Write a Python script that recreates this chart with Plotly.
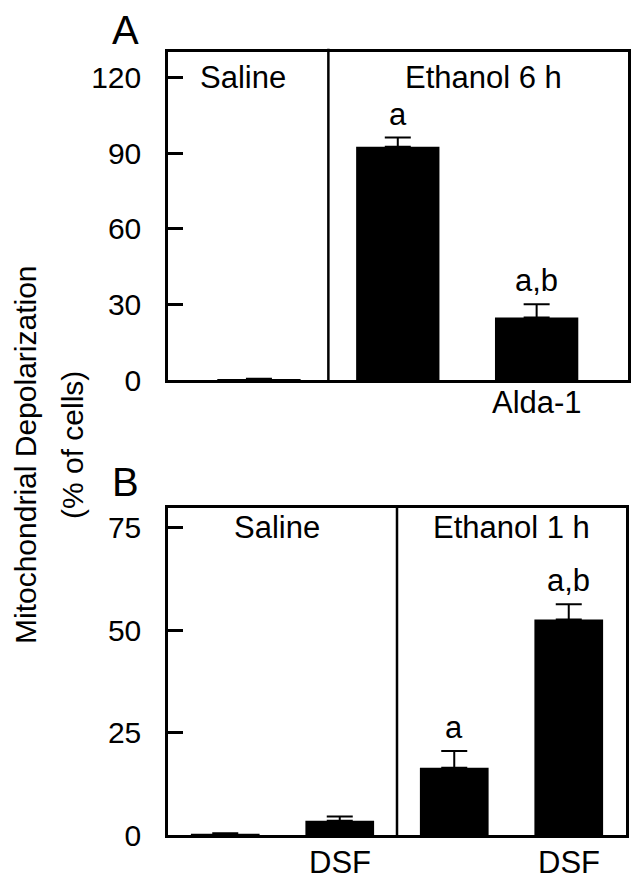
import plotly.graph_objects as go

# panel A: saline / ethanol 6 h
a_x = [1, 2, 3]
a_values = [0.2, 92.7, 24.8]
a_errors = [0.3, 3.6, 5.3]
a_marks = ["", "a", "a,b"]
a_ticks = [0, 30, 60, 90, 120]

# panel B: saline / ethanol 1 h
b_x = [1, 2, 3, 4]
b_values = [0.2, 3.5, 16.4, 52.6]
b_errors = [0.2, 1.0, 4.1, 3.7]
b_marks = ["", "", "a", "a,b"]
b_ticks = [0, 25, 50, 75]

FONT = "Liberation Sans, Arial, sans-serif"
W, H = 639, 882
OFF = 8  # page body margin shifts the figure by this much


def px_x(p):
    return (p - OFF) / W


def px_y(p):
    return 1 - (p - OFF) / H


fig = go.Figure()
fig.add_trace(go.Bar(x=a_x, y=a_values, width=0.6, marker=dict(color="black", line_width=0),
                     error_y=dict(type="data", array=a_errors, arrayminus=[0] * len(a_x), symmetric=False,
                                  color="black", thickness=2, width=13),
                     xaxis="x", yaxis="y", showlegend=False))
fig.add_trace(go.Bar(x=b_x, y=b_values, width=0.6, marker=dict(color="black", line_width=0),
                     error_y=dict(type="data", array=b_errors, arrayminus=[0] * len(b_x), symmetric=False,
                                  color="black", thickness=2, width=13),
                     xaxis="x2", yaxis="y2", showlegend=False))

a_range = [0.345, 3.658]
b_range = [0.5, 4.5]
axis_common = dict(showline=True, linewidth=2.5, linecolor="black", mirror=True, showgrid=False,
                   zeroline=False, automargin=False)
fig.update_layout(
    width=W, height=H,
    margin=dict(l=0, r=0, t=0, b=0, pad=0),
    plot_bgcolor="white", paper_bgcolor="white",
    font=dict(family=FONT, size=31, color="black"),
    xaxis=dict(domain=[px_x(168), px_x(628)], range=a_range, showticklabels=False, ticks="",
               anchor="y", **axis_common),
    yaxis=dict(domain=[px_y(380), px_y(52)], range=[0, 130.3], tickvals=a_ticks, ticks="inside",
               ticklen=15, tickwidth=2.5, tickcolor="black", ticklabelstandoff=18,
               tickfont=dict(size=30), anchor="x", **axis_common),
    xaxis2=dict(domain=[px_x(168), px_x(626)], range=b_range, showticklabels=False, ticks="",
                anchor="y2", **axis_common),
    yaxis2=dict(domain=[px_y(835), px_y(507.7)], range=[0, 79.9], tickvals=b_ticks, ticks="inside",
                ticklen=15, tickwidth=2.5, tickcolor="black", ticklabelstandoff=18,
                tickfont=dict(size=30), anchor="x2", **axis_common),
)

# group dividers
fig.add_shape(type="line", xref="x", yref="y domain", x0=1.5, x1=1.5, y0=0, y1=1.01,
              line=dict(color="black", width=2.5))
fig.add_shape(type="line", xref="x2", yref="y2 domain", x0=2.5, x1=2.5, y0=0, y1=1,
              line=dict(color="black", width=2.5))

ann = []
# group headings
ann.append(dict(text="Saline", x=(a_range[0] + 1.5) / 2 - 0.04, y=a_ticks[-1], xref="x", yref="y"))
ann.append(dict(text="Ethanol 6 h", x=(1.5 + a_range[1]) / 2 + 0.04, y=a_ticks[-1], xref="x", yref="y"))
ann.append(dict(text="Saline", x=(b_range[0] + 2.5) / 2 - 0.05, y=b_ticks[-1], xref="x2", yref="y2"))
ann.append(dict(text="Ethanol 1 h", x=(2.5 + b_range[1]) / 2, y=b_ticks[-1], xref="x2", yref="y2"))

# significance marks
for x, v, e, m in zip(a_x, a_values, a_errors, a_marks):
    if m:
        ann.append(dict(text=m, x=x, y=v + e, xref="x", yref="y", yanchor="bottom", yshift=4))
for x, v, e, m in zip(b_x, b_values, b_errors, b_marks):
    if m:
        ann.append(dict(text=m, x=x, y=v + e, xref="x2", yref="y2", yanchor="bottom", yshift=4))

# treatment labels under bars
ann.append(dict(text="Alda-1", x=3, y=px_y(402), xref="x", yref="paper"))
ann.append(dict(text="DSF", x=2, y=px_y(862), xref="x2", yref="paper"))
ann.append(dict(text="DSF", x=4, y=px_y(862), xref="x2", yref="paper"))

# panel letters
ann.append(dict(text="A", x=px_x(125), y=px_y(30), xref="paper", yref="paper", font=dict(size=40)))
ann.append(dict(text="B", x=px_x(125), y=px_y(482), xref="paper", yref="paper", font=dict(size=40)))

# shared y title
ann.append(dict(text="Mitochondrial Depolarization", x=px_x(25), y=px_y(455), xref="paper", yref="paper",
                textangle=-90, font=dict(size=30)))
ann.append(dict(text="(% of cells)", x=px_x(73), y=px_y(445), xref="paper", yref="paper", textangle=-90,
                font=dict(size=30)))

for a in ann:
    a.setdefault("showarrow", False)
    a.setdefault("xanchor", "center")
    a.setdefault("yanchor", "middle")

fig.update_layout(annotations=ann)
fig.write_html("out.html")
